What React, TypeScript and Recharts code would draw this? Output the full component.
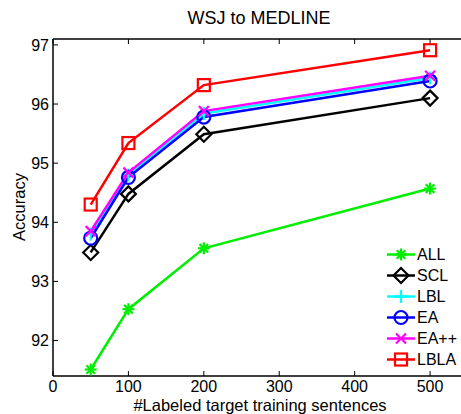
import { LineChart, Line, XAxis, YAxis, Legend } from 'recharts';

const sizes = [50, 100, 200, 500];
const allAcc = [91.51, 92.53, 93.56, 94.57];
const sclAcc = [93.49, 94.48, 95.49, 96.1];
const lblAcc = [93.8, 94.8, 95.84, 96.44];
const eaAcc = [93.73, 94.76, 95.78, 96.39];
const eaPlusAcc = [93.85, 94.84, 95.88, 96.48];
const lblaAcc = [94.3, 95.34, 96.32, 96.91];

const xTicks = [0, 100, 200, 300, 400, 500];
const yTicks = [92, 93, 94, 95, 96, 97];

type MarkerKind = 'asterisk' | 'diamond' | 'plus' | 'circle' | 'cross' | 'square';

const series: { key: string; name: string; color: string; marker: MarkerKind; values: number[] }[] = [
  { key: 'all', name: 'ALL', color: '#00ee00', marker: 'asterisk', values: allAcc },
  { key: 'scl', name: 'SCL', color: '#000000', marker: 'diamond', values: sclAcc },
  { key: 'lbl', name: 'LBL', color: '#00ffff', marker: 'plus', values: lblAcc },
  { key: 'ea', name: 'EA', color: '#0000ff', marker: 'circle', values: eaAcc },
  { key: 'eapp', name: 'EA++', color: '#ff00ff', marker: 'cross', values: eaPlusAcc },
  { key: 'lbla', name: 'LBLA', color: '#ff0000', marker: 'square', values: lblaAcc },
];

const data = sizes.map((x, i) => {
  const row: Record<string, number> = { x };
  series.forEach(s => { row[s.key] = s.values[i]; });
  return row;
});

const FONT = '"Liberation Sans", Arial, Helvetica, sans-serif';

const Marker = ({ cx, cy, kind, color }: { cx: number; cy: number; kind: MarkerKind; color: string }) => {
  const sw = 2.2;
  if (kind === 'asterisk') {
    const r = 6, d = 4.3;
    return (
      <g stroke={color} strokeWidth={sw}>
        <line x1={cx - r} y1={cy} x2={cx + r} y2={cy} />
        <line x1={cx} y1={cy - r} x2={cx} y2={cy + r} />
        <line x1={cx - d} y1={cy - d} x2={cx + d} y2={cy + d} />
        <line x1={cx - d} y1={cy + d} x2={cx + d} y2={cy - d} />
      </g>
    );
  }
  if (kind === 'diamond') {
    const r = 7.5;
    return <polygon points={`${cx},${cy - r} ${cx + r},${cy} ${cx},${cy + r} ${cx - r},${cy}`} fill="none" stroke={color} strokeWidth={sw} />;
  }
  if (kind === 'plus') {
    const r = 6.5;
    return (
      <g stroke={color} strokeWidth={sw}>
        <line x1={cx - r} y1={cy} x2={cx + r} y2={cy} />
        <line x1={cx} y1={cy - r} x2={cx} y2={cy + r} />
      </g>
    );
  }
  if (kind === 'circle') {
    return <circle cx={cx} cy={cy} r={6.5} fill="none" stroke={color} strokeWidth={sw} />;
  }
  if (kind === 'cross') {
    const d = 5;
    return (
      <g stroke={color} strokeWidth={sw}>
        <line x1={cx - d} y1={cy - d} x2={cx + d} y2={cy + d} />
        <line x1={cx - d} y1={cy + d} x2={cx + d} y2={cy - d} />
      </g>
    );
  }
  return <rect x={cx - 6} y={cy - 6} width={12} height={12} fill="none" stroke={color} strokeWidth={sw} />;
};

const renderLegend = () => (
  <div style={{ fontFamily: FONT, fontSize: 16, color: '#000' }}>
    {series.map(s => (
      <div key={s.key} style={{ display: 'flex', alignItems: 'center', height: 21 }}>
        <svg width={30} height={21}>
          <line x1={1} y1={10.5} x2={29} y2={10.5} stroke={s.color} strokeWidth={2.5} />
          <Marker cx={15} cy={10.5} kind={s.marker} color={s.color} />
        </svg>
        <span style={{ marginLeft: 1 }}>{s.name}</span>
      </div>
    ))}
  </div>
);

export default function App() {
  return (
    <div style={{ position: 'absolute', left: 0, top: 0, width: 461, height: 414, overflow: 'hidden', background: '#fff' }}>
      <div style={{ position: 'absolute', left: 0, width: 461, top: 8, textAlign: 'center', paddingLeft: 57, boxSizing: 'border-box', fontFamily: FONT, fontSize: 18 }}>
        WSJ to MEDLINE
      </div>
      <div style={{ position: 'absolute', left: 19, top: 207, transform: 'translate(-50%, -50%) rotate(-90deg)', fontFamily: FONT, fontSize: 16.5, whiteSpace: 'nowrap' }}>
        Accuracy
      </div>
      <div style={{ position: 'absolute', left: 260, top: 397, transform: 'translateX(-50%)', fontFamily: FONT, fontSize: 16.5, lineHeight: '17px', whiteSpace: 'nowrap' }}>
        #Labeled target training sentences
      </div>
      <LineChart width={461} height={414} data={data} margin={{ top: 38, right: 0, bottom: 0, left: 0 }}>
        <XAxis
          dataKey="x"
          type="number"
          domain={[0, 541]}
          ticks={xTicks}
          allowDataOverflow
          height={38}
          tickSize={-5}
          tickMargin={10}
          axisLine={{ stroke: '#000', strokeWidth: 1.5 }}
          tickLine={{ stroke: '#000' }}
          tick={{ fill: '#000', fontSize: 16, fontFamily: FONT }}
        />
        <XAxis
          xAxisId="top"
          orientation="top"
          dataKey="x"
          type="number"
          domain={[0, 541]}
          ticks={xTicks}
          allowDataOverflow
          height={1}
          tickSize={-5}
          tickFormatter={() => ''}
          axisLine={{ stroke: '#000', strokeWidth: 1.5 }}
          tickLine={{ stroke: '#000' }}
        />
        <YAxis
          type="number"
          domain={[91.4, 97.1]}
          ticks={yTicks}
          allowDataOverflow
          width={53}
          tickSize={-5}
          tickMargin={9}
          axisLine={{ stroke: '#000', strokeWidth: 1.5 }}
          tickLine={{ stroke: '#000' }}
          tick={{ fill: '#000', fontSize: 16, fontFamily: FONT }}
        />
        {series.map(s => (
          <Line
            key={s.key}
            dataKey={s.key}
            name={s.name}
            stroke={s.color}
            strokeWidth={2.5}
            isAnimationActive={false}
            dot={(p: any) => <Marker key={`${s.key}-${p.index}`} cx={p.cx} cy={p.cy} kind={s.marker} color={s.color} />}
            activeDot={false}
          />
        ))}
        <Legend
          layout="horizontal"
          verticalAlign="middle"
          align="center"
          content={renderLegend}
          wrapperStyle={{ left: 386, top: 244, width: 75 }}
        />
      </LineChart>
    </div>
  );
}
